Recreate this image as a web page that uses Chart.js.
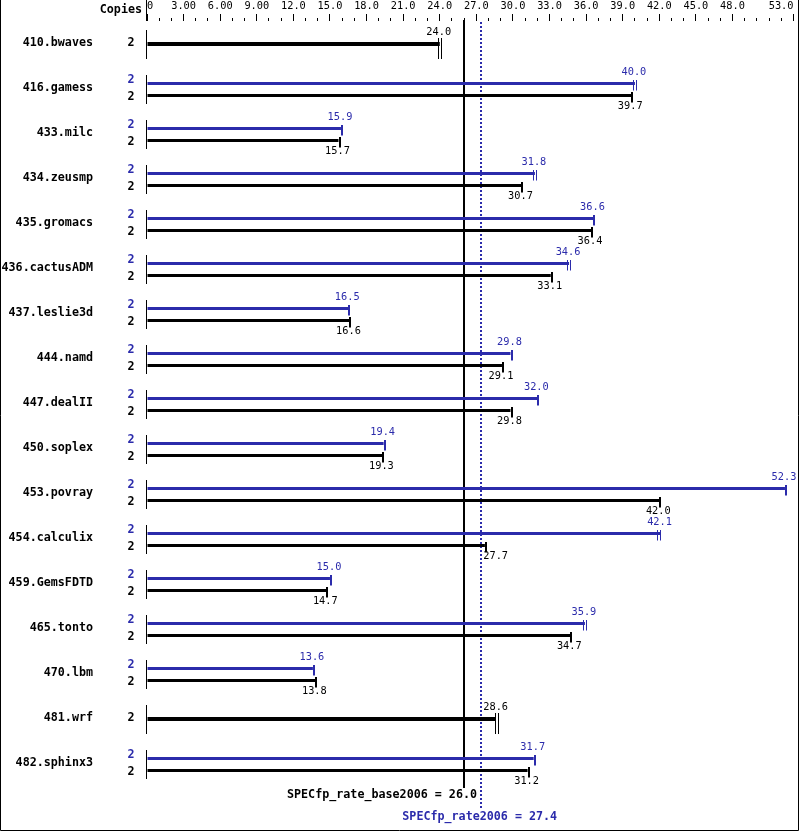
<!DOCTYPE html>
<html>
<head>
<meta charset="utf-8">
<script src="https://cdn.jsdelivr.net/npm/chart.js@4/dist/chart.umd.min.js"></script>
<style>
  html, body { margin: 0; padding: 0; background: #fff; }
  canvas { display: block; }
</style>
</head>
<body>
<canvas id="chart" width="799" height="831"></canvas>
<script>
// ---- data ----
const benchmarks = ["410.bwaves","416.gamess","433.milc","434.zeusmp","435.gromacs","436.cactusADM",
  "437.leslie3d","444.namd","447.dealII","450.soplex","453.povray","454.calculix","459.GemsFDTD",
  "465.tonto","470.lbm","481.wrf","482.sphinx3"];
const peakCopies = [null,2,2,2,2,2,2,2,2,2,2,2,2,2,2,null,2];
const baseCopies = [2,2,2,2,2,2,2,2,2,2,2,2,2,2,2,2,2];
const peakValues = [null,40.0,15.9,31.8,36.6,34.6,16.5,29.8,32.0,19.4,52.3,42.1,15.0,35.9,13.6,null,31.7];
const baseValues = [24.0,39.7,15.7,30.7,36.4,33.1,16.6,29.1,29.8,19.3,42.0,27.7,14.7,34.7,13.8,28.6,31.2];
// where two separate run ticks are visible at the bar end: [run a, run b]
const peakRuns = [null,[39.9,40.1],null,[31.7,31.9],null,[34.5,34.7],null,null,null,null,null,[41.85,42.1],null,[35.8,36.0],null,null,null];
const baseRuns = [[23.9,24.15],null,null,null,null,null,null,null,null,null,null,null,null,null,null,[28.6,28.8],null];
const tickValues = [0,3,6,9,12,15,18,21,24,27,30,33,36,39,42,45,48,53];
const tickLabels = ["0","3.00","6.00","9.00","12.0","15.0","18.0","21.0","24.0","27.0","30.0","33.0","36.0","39.0","42.0","45.0","48.0","53.0"];
const axisMax = 53.0;
const baseMean = 26.0;
const peakMean = 27.4;

const BLUE = "#2b2bab";
const MONO = "'DejaVu Sans Mono', 'Liberation Mono', monospace";
const BOLD = "bold 11.7px " + MONO;
const SMALL = "10.3px " + MONO;

// layout: one row every 45px, first row centred at y=44
const ROW_PX = 45, ROW0 = 44, TOP = 21, BOTTOM = 790;
const yMin = -(ROW0 - TOP) / ROW_PX;
const yMax = yMin + (BOTTOM - TOP) / ROW_PX;

const peakData = [], baseData = [], soloData = [];
benchmarks.forEach((b, i) => {
  if (peakValues[i] != null) {
    peakData.push({x: peakValues[i], y: i - 5.5 / ROW_PX, row: i});
    baseData.push({x: baseValues[i], y: i + 6.5 / ROW_PX, row: i});
  } else {
    soloData.push({x: baseValues[i], y: i, row: i});
  }
});

function align1(px){ return Math.round(px - 0.5) + 0.5; }

function vline(ctx, x, y1, y2){
  ctx.beginPath(); ctx.moveTo(x, y1); ctx.lineTo(x, y2); ctx.stroke();
}

const overlay = {
  id: "overlay",
  beforeDatasetsDraw(chart){
    const {ctx, scales: {x, y}} = chart;
    ctx.save();
    ctx.strokeStyle = "#000";
    ctx.lineWidth = 1;
    const x0 = x.getPixelForValue(0);
    benchmarks.forEach((b, i) => {
      const cy = y.getPixelForValue(i);
      vline(ctx, x0 - 0.5, cy - 14, cy + 15);
    });
    // overall averages
    const xb = Math.round(x.getPixelForValue(baseMean));
    ctx.lineWidth = 2;
    vline(ctx, xb, TOP - 1, 788);
    const xp = Math.round(x.getPixelForValue(peakMean));
    ctx.strokeStyle = BLUE;
    ctx.setLineDash([2, 2]);
    vline(ctx, xp, TOP + 1, 808);
    ctx.restore();
  },
  afterDatasetsDraw(chart){
    const {ctx, scales: {x}} = chart;
    const lines = [x.getPixelForValue(baseMean), x.getPixelForValue(peakMean)];
    ctx.save();
    ctx.font = SMALL;
    ctx.textAlign = "center";
    ctx.textBaseline = "middle";
    const drawSet = (dsIndex, runs, values, color, capUp, capDown, labelDy) => {
      const meta = chart.getDatasetMeta(dsIndex);
      meta.data.forEach((el, k) => {
        const row = chart.data.datasets[dsIndex].data[k].row;
        ctx.fillStyle = color;
        const r = runs[row];
        const top = Math.round(el.y - capUp), h = capUp + capDown;
        if (r) {
          r.forEach(v => ctx.fillRect(Math.floor(x.getPixelForValue(v)), top, 1, h));
        } else {
          ctx.fillRect(Math.round(el.x), top, 2, h);
        }
        // value label, kept off the average lines
        const txt = values[row].toFixed(1);
        const w = ctx.measureText(txt).width;
        let cx = el.x - 1;
        lines.forEach(lx => {
          if (cx - w / 2 < lx + 2 && cx + w / 2 > lx - 2) {
            cx = cx >= lx ? lx + 2 + w / 2 : lx - 2 - w / 2;
          }
        });
        ctx.fillText(txt, cx, el.y + labelDy);
      });
    };
    drawSet(0, peakRuns, peakValues, BLUE, 3.5, 7, -11.5);
    drawSet(1, baseRuns, baseValues, "#000", 3.5, 7, 10.5);
    drawSet(2, baseRuns, baseValues, "#000", 6, 15, -12);
    ctx.restore();
  },
  afterDraw(chart){
    const {ctx, scales: {x, y}} = chart;
    ctx.save();
    // benchmark names and copies
    ctx.font = BOLD;
    ctx.textBaseline = "middle";
    benchmarks.forEach((b, i) => {
      const cy = y.getPixelForValue(i);
      ctx.fillStyle = "#000";
      ctx.textAlign = "right";
      ctx.fillText(b, 93, cy - 1);
      ctx.textAlign = "center";
      if (peakCopies[i] != null) {
        ctx.fillStyle = BLUE;
        ctx.fillText(String(peakCopies[i]), 131, cy - 9);
        ctx.fillStyle = "#000";
        ctx.fillText(String(baseCopies[i]), 131, cy + 8);
      } else {
        ctx.fillText(String(baseCopies[i]), 131, cy - 1);
      }
    });
    ctx.fillStyle = "#000";
    ctx.textAlign = "right";
    ctx.fillText("Copies", 142, 10);
    // taller marks at labelled ticks
    ctx.strokeStyle = "#000";
    ctx.lineWidth = 1;
    tickValues.forEach(v => vline(ctx, align1(x.getPixelForValue(v)), 14, TOP));
    vline(ctx, x.getPixelForValue(0) - 0.5, 0, TOP);
    // summary texts
    ctx.textAlign = "right";
    ctx.fillText("SPECfp_rate_base2006 = " + baseMean.toFixed(1), Math.round(x.getPixelForValue(baseMean)) + 13, 795);
    ctx.fillStyle = BLUE;
    ctx.textAlign = "center";
    ctx.fillText("SPECfp_rate2006 = " + peakMean.toFixed(1), x.getPixelForValue(peakMean) - 1.5, 817);
    // frame
    ctx.strokeStyle = "#000";
    ctx.beginPath();
    ctx.moveTo(0.5, 0); ctx.lineTo(0.5, 830.5); ctx.lineTo(798.5, 830.5); ctx.lineTo(798.5, 0);
    ctx.stroke();
    ctx.restore();
  }
};

new Chart(document.getElementById("chart"), {
  type: "bar",
  data: {
    datasets: [
      {label: "peak", data: peakData, backgroundColor: BLUE, grouped: false, maxBarThickness: 3},
      {label: "base", data: baseData, backgroundColor: "#000", grouped: false, maxBarThickness: 3},
      {label: "base only", data: soloData, backgroundColor: "#000", grouped: false, maxBarThickness: 4}
    ]
  },
  options: {
    indexAxis: "y",
    responsive: false,
    animation: false,
    events: [],
    layout: {padding: {left: 147, right: 4, top: 0, bottom: 831 - BOTTOM}},
    plugins: {legend: {display: false}, tooltip: {enabled: false}},
    scales: {
      x: {
        type: "linear",
        position: "top",
        min: 0,
        max: axisMax,
        border: {display: false},
        grid: {drawOnChartArea: false, drawTicks: true, tickLength: 3, color: "#000", lineWidth: 1},
        ticks: {
          stepSize: 1,
          maxTicksLimit: 100,
          autoSkip: false,
          maxRotation: 0,
          minRotation: 0,
          align: "inner",
          padding: 5.5,
          color: "#000",
          font: {family: MONO, size: 10.3, lineHeight: "12px"},
          callback: v => {
            const k = tickValues.indexOf(v);
            return k >= 0 ? tickLabels[k] : "";
          }
        },
        afterFit: s => { s.height = TOP; }
      },
      y: {
        type: "linear",
        reverse: true,
        offset: false,
        min: yMin,
        max: yMax,
        display: false
      }
    }
  },
  plugins: [overlay]
});
</script>
</body>
</html>
